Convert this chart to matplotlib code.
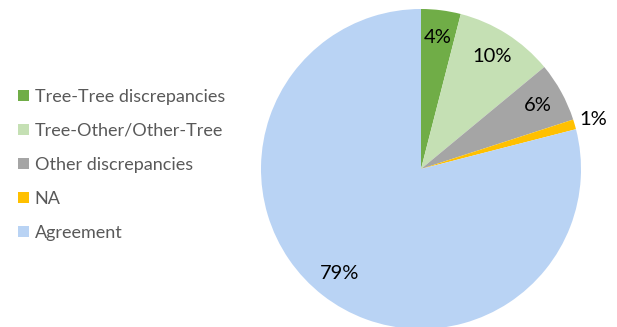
import matplotlib
matplotlib.use("Agg")
import matplotlib.pyplot as plt
import numpy as np

categories = ["Tree-Tree discrepancies", "Tree-Other/Other-Tree",
              "Other discrepancies", "NA", "Agreement"]
shares = [4, 10, 6, 1, 79]
colors = ["#70AD47", "#C5E0B4", "#A5A5A5", "#FFC000", "#B9D3F4"]

plt.rcParams["font.family"] = ["Lato", "DejaVu Sans"]

W, H = 617, 327
fig = plt.figure(figsize=(W / 100, H / 100), dpi=100)

cx, cy, r = 421, 169, 160
ax = fig.add_axes([(cx - r) / W, (H - cy - r) / H, 2 * r / W, 2 * r / H])

wedges, _ = ax.pie(shares, colors=colors, startangle=90, counterclock=False,
                   radius=1.0, wedgeprops=dict(linewidth=0))
ax.set_xlim(-1, 1)
ax.set_ylim(-1, 1)
ax.set_aspect("equal")
ax.axis("off")

# percentage labels: inside the wedge, small ones outside
for w, v in zip(wedges, shares):
    mid = np.deg2rad((w.theta1 + w.theta2) / 2)
    d = 1.12 if v < 2 else 0.83
    ax.text(d * np.cos(mid), d * np.sin(mid), f"{v}%", ha="center", va="center",
            fontsize=14.5, color="black")

fig.legend(wedges, categories, loc="center left",
           bbox_to_anchor=(13 / W, (H - 165) / H), frameon=False,
           fontsize=13, labelcolor="#595959", handlelength=0.6,
           handleheight=0.6, handletextpad=0.3, labelspacing=1.0,
           borderaxespad=0, borderpad=0.3)

fig.savefig("out.png", dpi=100)
